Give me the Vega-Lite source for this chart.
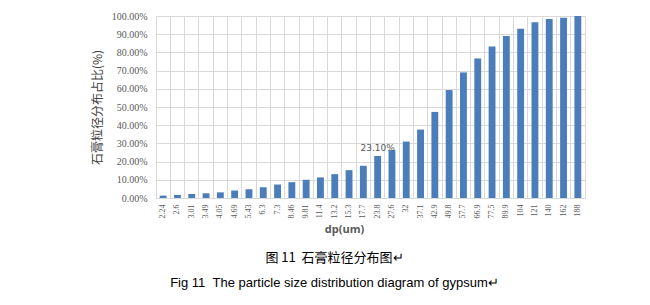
{
  "$schema": "https://vega.github.io/schema/vega-lite/v6.json",
  "width": 429,
  "height": 182,
  "autosize": "none",
  "padding": {"left": 156, "top": 16, "right": 65, "bottom": 107},
  "background": "white",
  "config": {
    "view": {"stroke": "#d9d9d9", "strokeWidth": 1}
  },
  "title": {
    "text": "图 11\u00a0\u00a0石膏粒径分布图↵",
    "subtitle": "Fig 11\u00a0\u00a0The particle size distribution diagram of gypsum↵",
    "orient": "bottom",
    "anchor": "middle",
    "offset": 18,
    "dx": -36,
    "font": "Noto Sans CJK SC",
    "fontSize": 13,
    "fontWeight": "normal",
    "color": "#000000",
    "subtitleFont": "Liberation Sans",
    "subtitleFontSize": 13,
    "subtitleColor": "#000000",
    "subtitlePadding": 12
  },
  "data": {
    "values": [
      {"dp": "2.24", "pct": 0.013},
      {"dp": "2.6", "pct": 0.017},
      {"dp": "3.01", "pct": 0.022},
      {"dp": "3.49", "pct": 0.026},
      {"dp": "4.05", "pct": 0.031},
      {"dp": "4.69", "pct": 0.041},
      {"dp": "5.43", "pct": 0.048},
      {"dp": "6.3", "pct": 0.059},
      {"dp": "7.3", "pct": 0.074},
      {"dp": "8.46", "pct": 0.087},
      {"dp": "9.81", "pct": 0.100},
      {"dp": "11.4", "pct": 0.113},
      {"dp": "13.2", "pct": 0.131},
      {"dp": "15.3", "pct": 0.153},
      {"dp": "17.7", "pct": 0.177},
      {"dp": "23.8", "pct": 0.231},
      {"dp": "27.6", "pct": 0.263},
      {"dp": "32", "pct": 0.310},
      {"dp": "37.1", "pct": 0.376},
      {"dp": "42.9", "pct": 0.473},
      {"dp": "49.8", "pct": 0.593},
      {"dp": "57.7", "pct": 0.690},
      {"dp": "66.9", "pct": 0.767},
      {"dp": "77.5", "pct": 0.833},
      {"dp": "89.9", "pct": 0.890},
      {"dp": "104", "pct": 0.930},
      {"dp": "121", "pct": 0.965},
      {"dp": "140", "pct": 0.983},
      {"dp": "162", "pct": 0.990},
      {"dp": "188", "pct": 1.000}
    ]
  },
  "encoding": {
    "x": {
      "field": "dp",
      "type": "nominal",
      "sort": null,
      "scale": {"paddingInner": 0, "paddingOuter": 0},
      "axis": {
        "title": "dp(um)",
        "titleFont": "Open Sans",
        "titleFontSize": 11,
        "titleFontWeight": "bold",
        "titleColor": "#595959",
        "titlePadding": 5,
        "titleX": 188,
        "labelAngle": -90,
        "labelFont": "Liberation Serif",
        "labelFontSize": 8,
        "labelColor": "#595959",
        "labelPadding": 6,
        "ticks": false,
        "domain": true,
        "domainColor": "#d9d9d9",
        "grid": true,
        "gridColor": "#d9d9d9",
        "bandPosition": 0
      }
    },
    "y": {
      "field": "pct",
      "type": "quantitative",
      "scale": {"domain": [0, 1], "nice": false},
      "axis": {
        "title": "石膏粒径分布占比(%)",
        "titleFont": "Noto Sans CJK SC",
        "titleFontSize": 12,
        "titleFontWeight": "normal",
        "titleColor": "#404040",
        "titlePadding": 7,
        "values": [0, 0.1, 0.2, 0.3, 0.4, 0.5, 0.6, 0.7, 0.8, 0.9, 1],
        "format": ".2%",
        "labelFont": "Liberation Serif",
        "labelFontSize": 10,
        "labelColor": "#595959",
        "labelPadding": 9,
        "ticks": false,
        "domain": false,
        "grid": true,
        "gridColor": "#d9d9d9"
      }
    }
  },
  "layer": [
    {
      "mark": {"type": "bar", "color": "#4a7dba", "width": {"band": 0.48}}
    },
    {
      "transform": [{"filter": "datum.dp === '23.8'"}],
      "mark": {
        "type": "text",
        "baseline": "bottom",
        "dy": -3,
        "font": "DejaVu Sans",
        "fontSize": 9,
        "color": "#595959"
      },
      "encoding": {
        "text": {"field": "pct", "type": "quantitative", "format": ".2%"}
      }
    }
  ]
}
